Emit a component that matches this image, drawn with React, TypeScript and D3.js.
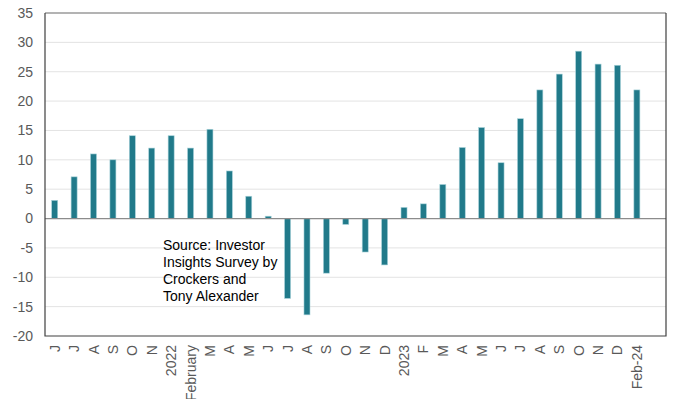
import React, { useRef, useEffect } from 'react';
import * as d3 from 'd3';

const months = [
  'J', 'J', 'A', 'S', 'O', 'N', '2022', 'February', 'M', 'A', 'M', 'J', 'J', 'A', 'S', 'O',
  'N', 'D', '2023', 'F', 'M', 'A', 'M', 'J', 'J', 'A', 'S', 'O', 'N', 'D', 'Feb-24',
];
const netPct = [
  3.1, 7.1, 11, 10, 14.1, 12, 14.1, 12, 15.2, 8.1, 3.8, 0.4, -13.6, -16.4, -9.3, -1,
  -5.7, -7.9, 1.9, 2.5, 5.8, 12.1, 15.5, 9.5, 17, 21.9, 24.6, 28.5, 26.3, 26.1, 21.9,
];
const yTicks = [-20, -15, -10, -5, 0, 5, 10, 15, 20, 25, 30, 35];
const sourceLines = ['Source: Investor', 'Insights Survey by', 'Crockers and', 'Tony Alexander'];

const W = 675;
const H = 407;
const margin = { top: 13, right: 9, bottom: 71, left: 45 };

const Chart: React.FC = () => {
  const ref = useRef<SVGSVGElement>(null);

  useEffect(() => {
    if (!ref.current) return;
    const svg = d3.select(ref.current);
    svg.selectAll('*').remove();

    const left = margin.left;
    const right = W - margin.right;
    const top = margin.top;
    const bottom = H - margin.bottom;

    // one empty slot after the last month, like the original
    const x = d3.scaleBand<number>()
      .domain(d3.range(months.length + 1))
      .range([left, right])
      .paddingInner(0.69)
      .paddingOuter(0.345);

    const y = d3.scaleLinear().domain([-20, 35]).range([bottom, top]);

    // gridlines
    svg.append('g')
      .selectAll('line')
      .data(yTicks.filter(t => t !== 0 && t !== -20 && t !== 35))
      .join('line')
      .attr('x1', left).attr('x2', right)
      .attr('y1', d => y(d)).attr('y2', d => y(d))
      .attr('stroke', '#e3e3e3').attr('stroke-width', 1);

    // bars
    svg.append('g')
      .selectAll('rect')
      .data(netPct)
      .join('rect')
      .attr('x', (_, i) => x(i)!)
      .attr('width', x.bandwidth())
      .attr('y', d => y(Math.max(0, d)))
      .attr('height', d => Math.abs(y(d) - y(0)))
      .attr('fill', '#217a8a')
      .attr('stroke', '#a9d3da')
      .attr('stroke-width', 0.6);

    // zero line
    svg.append('line')
      .attr('x1', left).attr('x2', right)
      .attr('y1', y(0)).attr('y2', y(0))
      .attr('stroke', '#8c8c8c').attr('stroke-width', 1.2);

    // frame
    svg.append('line')
      .attr('x1', left).attr('x2', right).attr('y1', top).attr('y2', top)
      .attr('stroke', '#9a9a9a').attr('stroke-width', 1.5);
    svg.append('path')
      .attr('d', `M${left},${top}V${bottom}H${right}V${top}`)
      .attr('fill', 'none')
      .attr('stroke', '#404040').attr('stroke-width', 1.2);

    // y ticks
    svg.append('g')
      .selectAll('text')
      .data(yTicks)
      .join('text')
      .attr('x', 33)
      .attr('y', d => y(d))
      .attr('dy', '0.35em')
      .attr('text-anchor', 'end')
      .attr('font-family', 'Liberation Sans, Arial, sans-serif')
      .attr('font-size', 14)
      .attr('fill', '#595959')
      .text(d => String(d));

    // x labels
    svg.append('g')
      .selectAll('text')
      .data(months)
      .join('text')
      .attr('transform', (_, i) => `translate(${x(i)! + x.bandwidth() / 2 + 5},${bottom + 9}) rotate(-90)`)
      .attr('text-anchor', 'end')
      .attr('font-family', 'Liberation Sans, Arial, sans-serif')
      .attr('font-size', 14)
      .attr('fill', '#595959')
      .text(d => d);

    // source note
    svg.append('text')
      .attr('font-family', 'Liberation Sans, Arial, sans-serif')
      .attr('font-size', 14)
      .attr('fill', '#000')
      .selectAll('tspan')
      .data(sourceLines)
      .join('tspan')
      .attr('x', 163)
      .attr('y', (_, i) => 250 + i * 17)
      .text(d => d);
  }, []);

  return <svg ref={ref} width={W} height={H} viewBox={`0 0 ${W} ${H}`} style={{ display: 'block' }} />;
};

export default function App() {
  return (
    <div style={{ margin: -8 }}>
      <Chart />
    </div>
  );
}
